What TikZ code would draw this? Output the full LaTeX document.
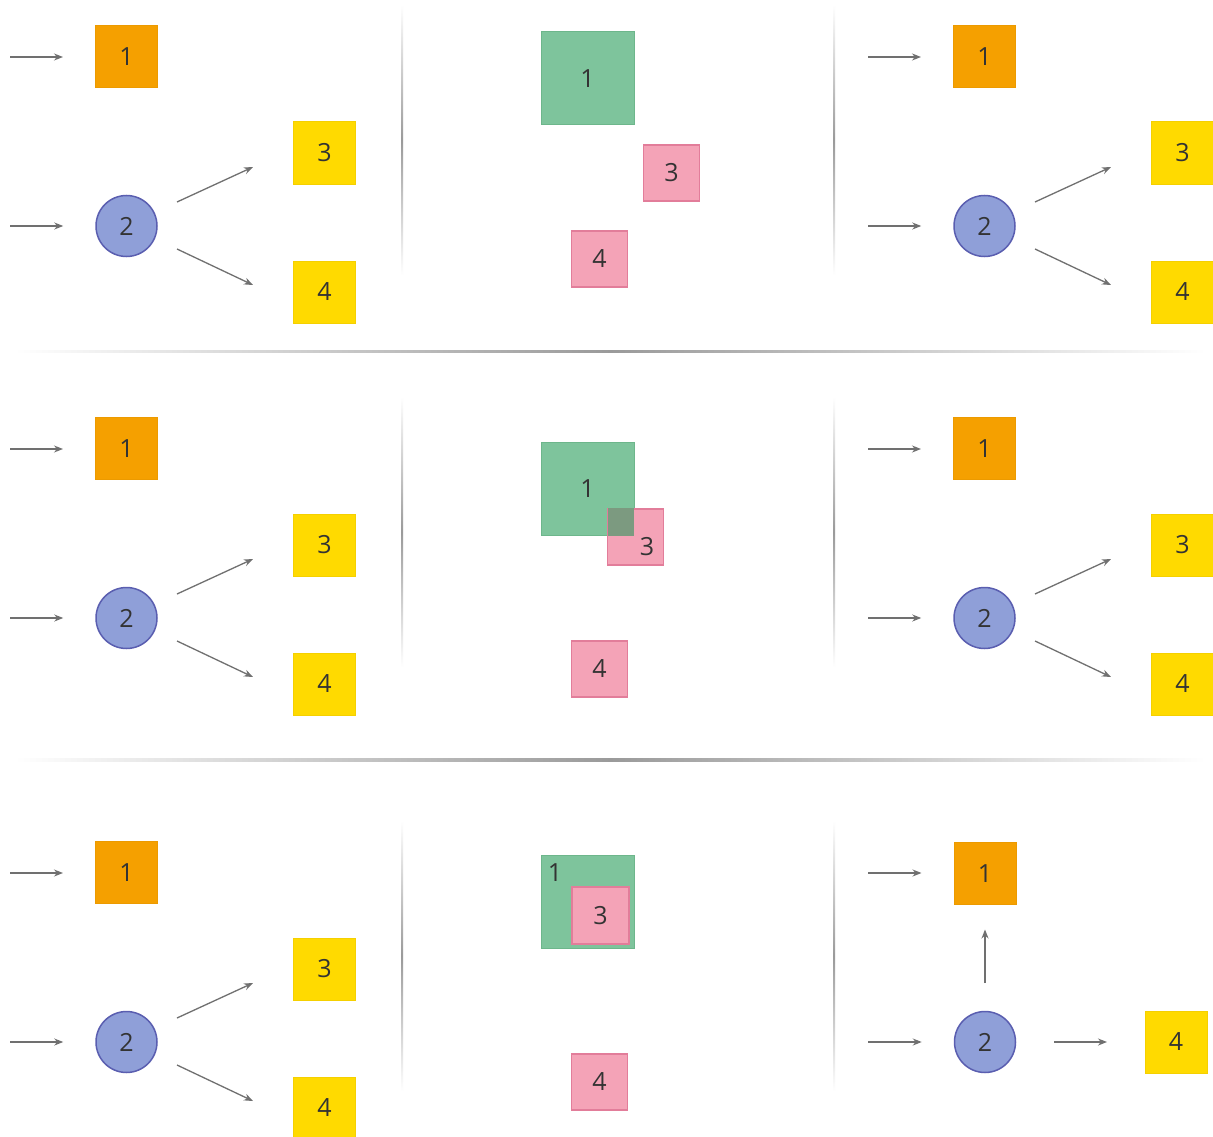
\documentclass[tikz,border=0pt]{standalone}
\usepackage{fontspec}
\setmainfont{Open Sans}
\usetikzlibrary{arrows.meta}

\definecolor{orangefill}{HTML}{F5A000}
\definecolor{orangeline}{HTML}{EC9A00}
\definecolor{yellowfill}{HTML}{FFDA00}
\definecolor{yellowline}{HTML}{F5D000}
\definecolor{bluefill}{HTML}{8F9FD8}
\definecolor{blueline}{HTML}{5A5EB0}
\definecolor{greenfill}{HTML}{7EC49C}
\definecolor{greenline}{HTML}{6DB68B}
\definecolor{pinkfill}{HTML}{F4A3B7}
\definecolor{pinkline}{HTML}{E27D9A}
\definecolor{overlapfill}{HTML}{7C9A80}
\definecolor{arrowgray}{HTML}{707070}
\definecolor{sepgray}{HTML}{9A9A9A}
\definecolor{labelgray}{HTML}{333333}

\tikzset{
  every node/.style={text=labelgray, font=\fontsize{25}{28}\selectfont},
  sq/.style={rectangle, minimum size=62pt, inner sep=0pt, line width=1pt},
  orangebox/.style={sq, fill=orangefill, draw=orangeline},
  yellowbox/.style={sq, fill=yellowfill, draw=yellowline},
  disc/.style={circle, minimum size=61pt, inner sep=0pt, fill=bluefill, draw=blueline, line width=1.5pt},
  greenbox/.style={rectangle, minimum size=93pt, inner sep=0pt, fill=greenfill, draw=greenline, line width=1pt},
  pinkbox/.style={rectangle, minimum size=56pt, inner sep=0pt, fill=pinkfill, draw=pinkline, line width=1.2pt},
  flow/.style={draw=arrowgray, line width=1.3pt, -{Stealth[length=9pt,width=7pt]}},
}

% one node splits into two: 1 fed directly, 2 fanning out to 3 and 4
\newcommand\fanpanel[3]{%
  \begin{scope}[shift={(#2,#3)}]
    \node[orangebox] (#1one) at (126.5,56.5) {1};
    \node[disc] (#1two) at (126.5,226) {2};
    \node[yellowbox] (#1three) at (324.5,153) {3};
    \node[yellowbox] (#1four) at (324.5,292) {4};
    \coordinate (#1inA) at (10,57);
    \coordinate (#1inB) at (10,226);
    \draw[flow] (#1inA) -- ([xshift=-32pt]#1one.west |- #1inA);
    \draw[flow] (#1inB) -- ([xshift=-32pt]#1two.west);
    \draw[flow] ([shift={(50.5,-24)}]#1two.center) -- ([shift={(-71.5,14)}]#1three.center);
    \draw[flow] ([shift={(50.5,23)}]#1two.center) -- ([shift={(-71.5,-7)}]#1four.center);
  \end{scope}}

\begin{document}
\begin{tikzpicture}[x=1pt, y=-1pt]
  \useasboundingbox (0,0) rectangle (1213,1137);
  \fill[white] (0,0) rectangle (1213,1137);

  % separators
  \foreach \yo in {0,392,816} {
    \shade[top color=white, bottom color=white, middle color=sepgray] (401,5+\yo) rectangle (403,275+\yo);
    \shade[top color=white, bottom color=white, middle color=sepgray] (833,5+\yo) rectangle (835,275+\yo);
  }
  \shade[left color=white, right color=white, middle color=sepgray] (15,350) rectangle (1205,352.5);
  \shade[left color=white, right color=white, middle color=sepgray] (15,758.5) rectangle (1205,761);

  % left column
  \fanpanel{La}{0}{0}
  \fanpanel{Lb}{0}{392}
  \fanpanel{Lc}{0}{816}

  % right column
  \fanpanel{Ra}{858}{0}
  \fanpanel{Rb}{858}{392}

  \begin{scope}[shift={(858,816)}]
    \node[orangebox] (Rcone) at (127,57.5) {1};
    \node[disc] (Rctwo) at (127,226) {2};
    \node[yellowbox] (Rcfour) at (318,226) {4};
    \coordinate (RcinA) at (10,57);
    \coordinate (RcinB) at (10,226);
    \draw[flow] (RcinA) -- ([xshift=-32pt]Rcone.west |- RcinA);
    \draw[flow] (RcinB) -- ([xshift=-32pt]Rctwo.west);
    \draw[flow] ([yshift=59pt]Rctwo.center) -- ([yshift=-56pt]Rcone.center);
    \draw[flow] ([xshift=69pt]Rctwo.center) -- ([xshift=-69pt]Rcfour.center);
  \end{scope}

  % middle column, row 1: apart
  \node[greenbox] (Maone) at (587.5,78.5) {1};
  \node[pinkbox] (Mathree) at (671.5,173) {3};
  \node[pinkbox] (Mafour) at (599.5,259) {4};

  % row 2: 3 overlaps 1
  \node[greenbox] (Mbone) at (587.5,488.5) {1};
  \node[pinkbox] (Mbthree) at (635.5,537) {};
  \fill[overlapfill] ([shift={(0.6,-0.6)}]Mbthree.north west) rectangle ([shift={(-0.5,0.5)}]Mbone.south east);
  \node (Mbthreetext) at (647,547) {3};
  \node[pinkbox] (Mbfour) at (599.5,669) {4};

  % row 3: 3 inside 1
  \node[greenbox] (Mcone) at (588,902) {};
  \node (Mconetext) at (555,873) {1};
  \node[pinkbox, minimum size=57pt] (Mcthree) at (600.5,915.5) {3};
  \node[pinkbox] (Mcfour) at (599.5,1082) {4};
\end{tikzpicture}
\end{document}
